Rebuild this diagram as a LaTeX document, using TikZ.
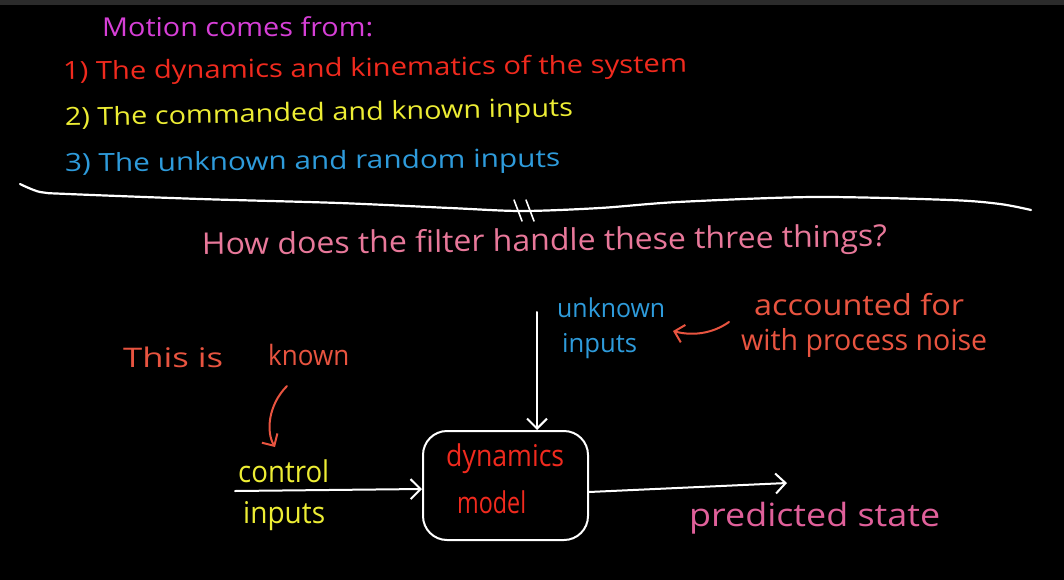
\documentclass[tikz,border=0pt]{standalone}
\usepackage{fontspec}
\setmainfont{Open Sans}
\usepackage{graphicx}
\usetikzlibrary{arrows.meta}
\definecolor{cmag}{HTML}{D63FD6}
\definecolor{cred}{HTML}{F02A1E}
\definecolor{cyel}{HTML}{EDED34}
\definecolor{cblue}{HTML}{2E9BDB}
\definecolor{cpink}{HTML}{E8789A}
\definecolor{corange}{HTML}{E85440}
\definecolor{cdeep}{HTML}{E0609A}
\definecolor{cbar}{HTML}{2B2B2B}
\newcommand\hw[3]{{\fontsize{#2}{#2}\selectfont\resizebox{#1pt}{\height}{#3}}}
\begin{document}
\begin{tikzpicture}[x=1pt,y=-1pt,
  txt/.style={inner sep=0pt,anchor=base west},
  wline/.style={draw=white,line width=2pt,line cap=round,line join=round},
  arr/.style={wline,-{Straight Barb[length=10pt,width=20pt,line width=2pt]}},
  rarr/.style={draw=corange,line width=2pt,line cap=round,-{Straight Barb[length=9pt,width=18pt,line width=2pt]}}]
\fill[black] (0,0) rectangle (1064,580);
\fill[cbar] (0,0) rectangle (1064,5);
\useasboundingbox (0,0) rectangle (1064,580);

% header text
\node[txt,text=cmag] (motion) at (102,37) {\hw{271}{26}{Motion comes from:}};
\node[txt,text=cred,rotate=0.7] (l1) at (63,80) {\hw{624}{25}{1) The dynamics and kinematics of the system}};
\node[txt,text=cyel,rotate=1.1] (l2) at (65,126) {\hw{508}{25}{2) The commanded and known inputs}};
\node[txt,text=cblue,rotate=0.6] (l3) at (65,172) {\hw{495}{25}{3) The unknown and random inputs}};

% separator
\draw[wline,line width=2.2pt] plot[smooth] coordinates {(20,184) (40,192) (68,194) (200,199) (339,203) (450,208) (522,211) (600,208) (678,202) (814,197) (950,200) (1000,204) (1031,210)};
\draw[wline,line width=1.6pt] (514,200) -- (522,221);
\draw[wline,line width=1.6pt] (526,200) -- (534,221);

\node[txt,text=cpink,rotate=0.7] (how) at (202,255) {\hw{685}{30}{How does the filter handle these three things?}};

% block diagram
\node[draw=white,line width=2pt,rounded corners=24pt,minimum width=165pt,minimum height=109pt,inner sep=0pt] (box) at (505.5,485.5) {};
\node[txt,text=cred] (dyn) at (446,466) {\hw{118}{30}{dynamics}};
\node[txt,text=cred] (model) at (457,513) {\hw{69}{30}{model}};

\node[txt,text=corange] (thisis) at (123,367) {\hw{100}{27}{This is}};
\node[txt,text=corange] (known) at (268,365) {\hw{81}{28}{known}};

\node[txt,text=cyel] (control) at (238,482) {\hw{91}{30}{control}};
\node[txt,text=cyel] (cinputs) at (243,523) {\hw{82}{30}{inputs}};

\node[txt,text=cblue] (unknown) at (557,317) {\hw{108}{26}{unknown}};
\node[txt,text=cblue] (uinputs) at (562,352) {\hw{75}{26}{inputs}};

\node[txt,text=corange] (acc) at (754,315) {\hw{210}{29}{accounted for}};
\node[txt,text=corange] (proc) at (741,350) {\hw{246}{29}{with process noise}};

\node[txt,text=cdeep] (pred) at (689,526) {\hw{251}{32}{predicted state}};

% connectors
\coordinate (cin) at (235,491);
\coordinate (uin) at (537,312);
\coordinate (out) at (787,483);
\draw[arr] (cin) -- ([yshift=-3.5pt]box.west);
\draw[arr] (uin) -- (uin |- box.north);
\draw[arr] ([yshift=-6.5pt]box.east) -- (out);

\coordinate (k1) at (287,386);
\coordinate (k2) at (275,447);
\draw[rarr] (k1) .. controls (268,405) and (266,432) .. (k2);
\coordinate (a1) at (729,322);
\coordinate (a2) at (673,331);
\draw[rarr] (a1) .. controls (712,334) and (692,336) .. (a2);
\end{tikzpicture}
\end{document}
